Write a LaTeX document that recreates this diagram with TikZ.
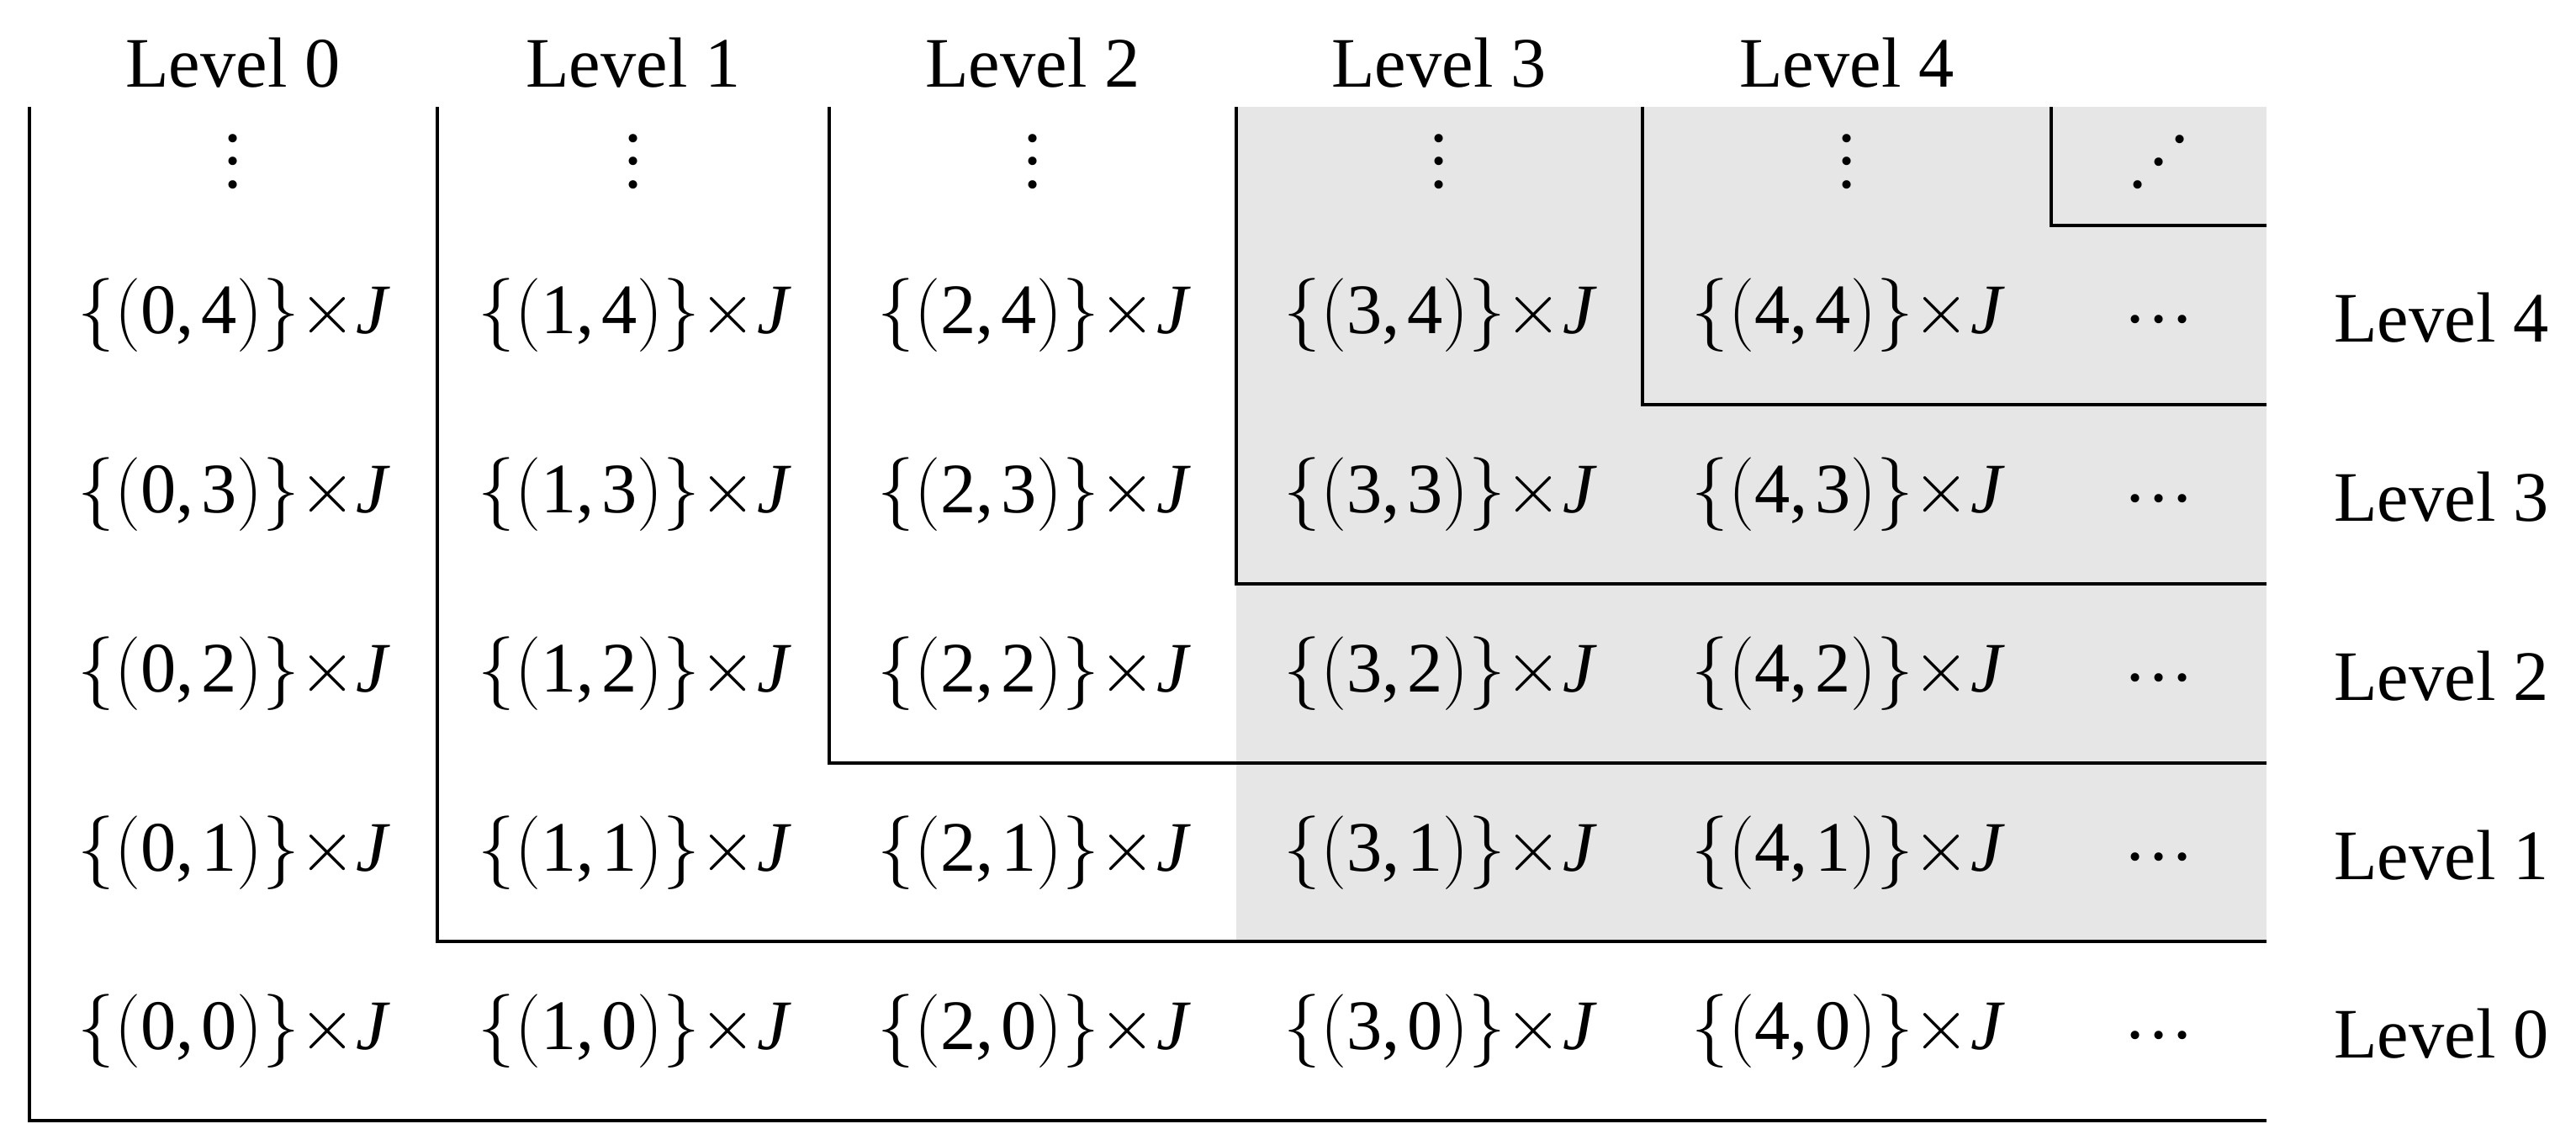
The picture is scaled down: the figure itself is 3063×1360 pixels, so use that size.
\documentclass[tikz,border=0pt]{standalone}
\usepackage{fontspec}
\setmainfont{Liberation Serif}
\definecolor{cellgray}{RGB}{230,230,230}
\newcommand\myvdots{\vbox{\baselineskip=0.275cm\lineskiplimit=-10pt\hbox{.}\hbox{.}\hbox{.}}}
\newcommand\myhdots{\hbox{.\kern0.07cm.\kern0.07cm.}}
\newcommand\myddots{\hbox{.\kern0.04cm\raisebox{0.27cm}{.}\kern0.04cm\raisebox{0.54cm}{.}}}
\newcommand\cellset[2]{$\bigl\{\bigl(\mbox{#1,\kern0.1em#2}\bigr)\bigr\}{\times}\mbox{\itshape J}$}
\begin{document}
\begin{tikzpicture}[x=0.01cm,y=-0.01cm,
  every node/.style={font=\fontsize{24}{28}\selectfont, inner sep=0pt},
  border/.style={line width=0.04cm, line join=miter},
  cell/.style={anchor=base},
  lbl/.style={anchor=base}]
\useasboundingbox (0,0) rectangle (3063,1360);
\fill[cellgray] (1470,127) rectangle (2695,1119);
\draw[border] (35,127) |- (2695,1332);
\draw[border] (520,127) |- (2695,1119);
\draw[border] (986,127) |- (2695,907);
\draw[border] (1470,127) |- (2695,694);
\draw[border] (1953,127) |- (2695,481);
\draw[border] (2439,127) |- (2695,268);
% column headers and vertical dots
\foreach \c/\x in {0/277,1/753,2/1228,3/1711,4/2196}{
  \node[lbl] (top\c) at (\x,103) {Level \c};
  \node (vd\c) at (\x,192) {\myvdots};
}
\node (dd) at (2567,193) {\myddots};
% cells
\foreach \r/\y in {0/1225,1/1013,2/800,3/587,4/374}{
  \foreach \c/\x in {0/277,1/753,2/1228,3/1711,4/2196}{
    \node[cell] (c\c\r) at (\x,{\y+22}) {\cellset{\c}{\r}};
  }
  \node (hd\r) at (2567,{\y+6}) {\myhdots};
  \node[lbl] (lvl\r) at (2903,{\y+32}) {Level \r};
}
\end{tikzpicture}
\end{document}
